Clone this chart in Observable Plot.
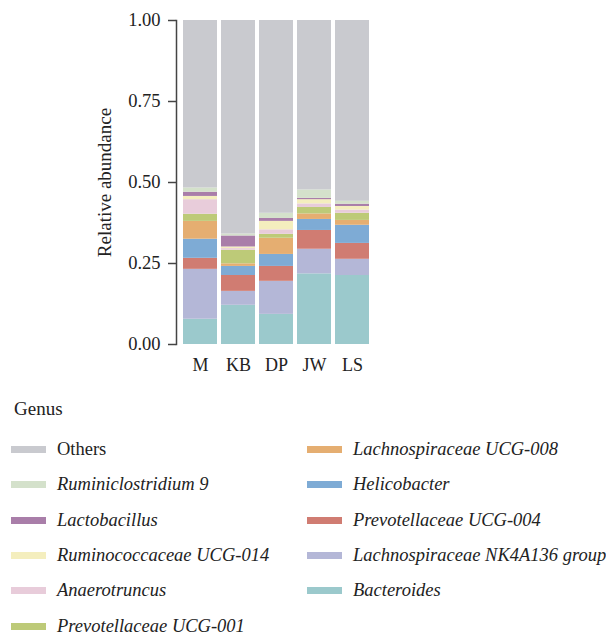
<!DOCTYPE html>
<html>
<head>
<meta charset="utf-8">
<script src="https://cdn.jsdelivr.net/npm/d3@7"></script>
<script src="https://cdn.jsdelivr.net/npm/@observablehq/plot@0.6"></script>
<style>
  html, body { margin: 0; padding: 0; background: #fff; }
  #wrap { position: relative; width: 606px; height: 635px; font-family: "Liberation Serif", serif; color: #222; }
  #chart { position: absolute; left: 0; top: 0; }
  .lg-title { position: absolute; left: 14px; top: 397px; font-size: 19px; line-height: 24px; }
  .lg-item { position: absolute; height: 24px; line-height: 24px; font-size: 18.5px; white-space: nowrap; }
  .lg-sw { position: absolute; width: 35px; height: 7px; top: 9px; }
  .lg-tx { position: absolute; top: 0; }
</style>
</head>
<body>
<div id="wrap">
  <div id="chart"></div>
  <div id="legend"></div>
</div>
<script>
// ---- data ----
const samples = ["M", "KB", "DP", "JW", "LS"];
// genera, bottom of stack first
const genera = [
  "Bacteroides",
  "Lachnospiraceae NK4A136 group",
  "Prevotellaceae UCG-004",
  "Helicobacter",
  "Lachnospiraceae UCG-008",
  "Prevotellaceae UCG-001",
  "Anaerotruncus",
  "Ruminococcaceae UCG-014",
  "Lactobacillus",
  "Ruminiclostridium 9",
  "Others"
];
const colors = [
  "#9bc9cc", "#b4b7d7", "#d07c72", "#7eabd5", "#e5ae71",
  "#bdca78", "#e8ccda", "#f4eebe", "#a97ea9", "#d4e1cb", "#c9cacf"
];
// values per genus, in sample order M, KB, DP, JW, LS
const bacteroides   = [0.078, 0.121, 0.093, 0.218, 0.213];
const nk4a136       = [0.154, 0.043, 0.102, 0.076, 0.050];
const prevUCG004    = [0.034, 0.049, 0.046, 0.058, 0.049];
const helicobacter  = [0.059, 0.028, 0.037, 0.034, 0.056];
const lachUCG008    = [0.055, 0.008, 0.050, 0.017, 0.015];
const prevUCG001    = [0.022, 0.042, 0.012, 0.020, 0.022];
const anaerotruncus = [0.045, 0.005, 0.014, 0.011, 0.010];
const rumUCG014     = [0.010, 0.005, 0.026, 0.013, 0.011];
const lactobacillus = [0.013, 0.034, 0.009, 0.004, 0.007];
const ruminiclost9  = [0.013, 0.006, 0.016, 0.026, 0.009];
const others        = [0.517, 0.659, 0.595, 0.523, 0.558];
const yTicks = [0, 0.25, 0.5, 0.75, 1];

// legend layout order (column 1 then column 2)
const legendCol1 = ["Others", "Ruminiclostridium 9", "Lactobacillus", "Ruminococcaceae UCG-014", "Anaerotruncus", "Prevotellaceae UCG-001"];
const legendCol2 = ["Lachnospiraceae UCG-008", "Helicobacter", "Prevotellaceae UCG-004", "Lachnospiraceae NK4A136 group", "Bacteroides"];

const series = [bacteroides, nk4a136, prevUCG004, helicobacter, lachUCG008, prevUCG001,
                anaerotruncus, rumUCG014, lactobacillus, ruminiclost9, others];
const rows = [];
genera.forEach((g, gi) => {
  samples.forEach((s, si) => rows.push({sample: s, genus: g, value: series[gi][si]}));
});

const plot = Plot.plot({
  width: 400,
  height: 385,
  marginLeft: 176,
  marginRight: 24,
  marginTop: 20,
  marginBottom: 41,
  style: {fontFamily: "Liberation Serif, serif", fontSize: "18px", color: "#222", background: "transparent"},
  x: {domain: samples, paddingInner: 0.11, paddingOuter: 0.157, label: null},
  y: {domain: [0, 1], label: null},
  color: {domain: genera, range: colors},
  marks: [
    Plot.barY(rows, Plot.stackY({x: "sample", y: "value", fill: "genus", order: null})),
    Plot.axisX({tickSize: 0, tickPadding: 14, label: null, fontSize: 18}),
    Plot.axisY({ticks: yTicks, tickFormat: d3.format(".2f"), tickSize: 8, tickPadding: 8, label: null, fontSize: 18.5, stroke: "#444", strokeWidth: 1.5}),
    Plot.frame({anchor: "left", stroke: "#444", strokeWidth: 1.5}),
    Plot.text(["Relative abundance"], {frameAnchor: "left", dx: -72, rotate: -90, text: d => d, fontSize: 19, textAnchor: "middle"})
  ]
});
document.getElementById("chart").appendChild(plot);

// ---- legend ----
const lg = document.getElementById("legend");
const title = document.createElement("div");
title.className = "lg-title";
title.textContent = "Genus";
lg.appendChild(title);
function addItem(name, x, y) {
  const it = document.createElement("div");
  it.className = "lg-item";
  it.style.left = x + "px";
  it.style.top = (y - 12) + "px";
  const sw = document.createElement("div");
  sw.className = "lg-sw";
  sw.style.left = "0px";
  sw.style.background = colors[genera.indexOf(name)];
  const tx = document.createElement("div");
  tx.className = "lg-tx";
  tx.style.left = "46px";
  tx.style.fontStyle = name === "Others" ? "normal" : "italic";
  tx.textContent = name;
  it.appendChild(sw); it.appendChild(tx);
  lg.appendChild(it);
}
legendCol1.forEach((g, i) => addItem(g, 11, 449 + i * 35.3));
legendCol2.forEach((g, i) => addItem(g, 307, 449 + i * 35.3));
</script>
</body>
</html>
